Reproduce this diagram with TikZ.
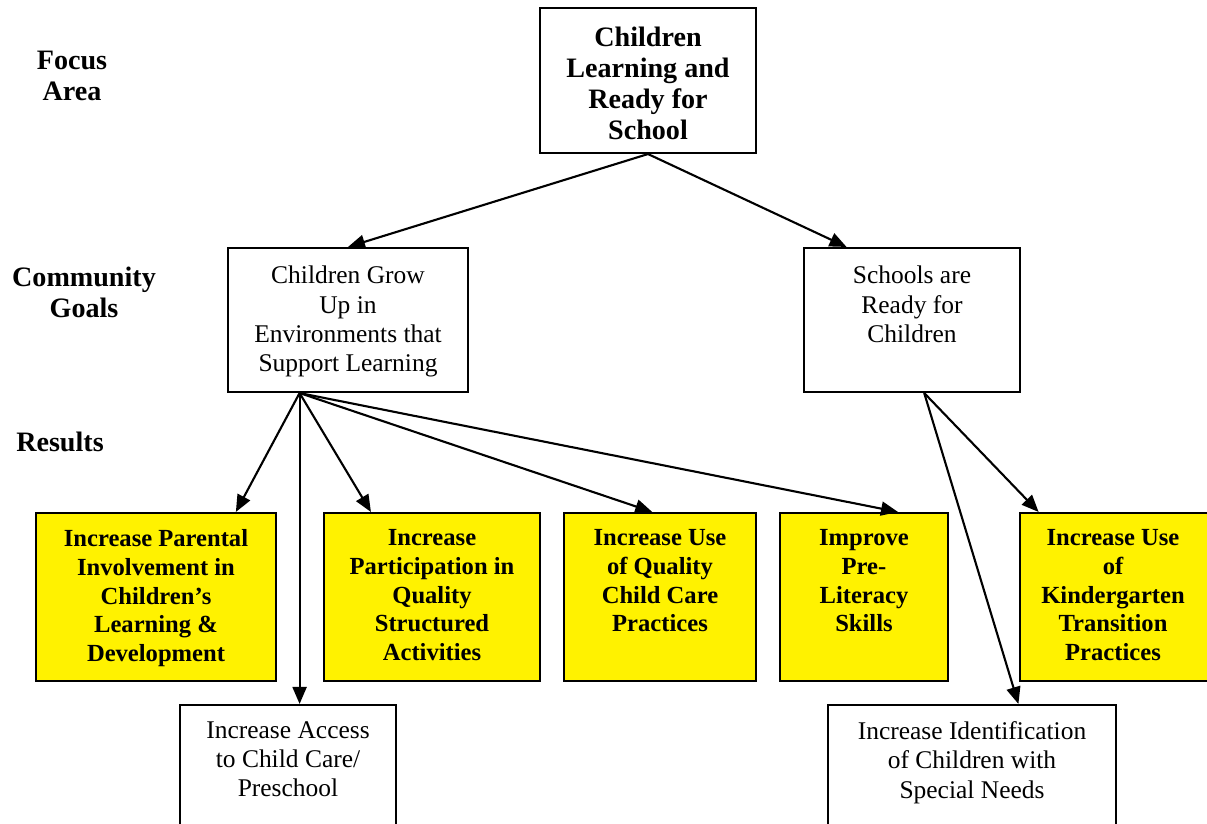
\documentclass[tikz,border=0pt]{standalone}
\usepackage{fontspec}
\setmainfont{Liberation Serif}
\usetikzlibrary{arrows.meta,calc,positioning}

\tikzset{
  box/.style={draw, line width=1.2pt, inner sep=0pt, minimum height=2.88cm},
  goal/.style={box, fill=white},
  result/.style={box, fill=yellow, minimum height=3.36cm},
  plain/.style={anchor=north, align=center, inner sep=0pt, font=\fontsize{14.5}{16.6}\selectfont},
  strong/.style={anchor=north, align=center, inner sep=0pt, font=\fontsize{14}{16.4}\selectfont\bfseries},
  heading/.style={align=center, inner sep=0pt, font=\fontsize{16}{17.6}\selectfont\bfseries},
  link/.style={line width=1.2pt, -{Triangle[length=0.34cm,width=0.28cm]}},
}

\begin{document}
\begin{tikzpicture}[x=0.02cm, y=-0.02cm]
  \clip (0,0) rectangle (1207,824);

  % row headings
  \node[heading] (focus) at (72,76) {Focus\\Area};
  \node[heading] (community) at (84,292) {Community\\Goals};
  \node[heading] (results) at (60,442) {Results};

  % focus area
  \node[box, minimum width=4.32cm, minimum height=2.9cm] (area) at (648,80.5) {};
  \node[heading, anchor=north, below=0.4cm] at (area.north) {Children\\Learning and\\Ready for\\School};

  % community goals
  \node[goal, minimum width=4.8cm] (grow) at (348,320) {};
  \node[plain, below=0.38cm] at (grow.north) {Children Grow\\Up in\\Environments that\\Support Learning};
  \node[goal, minimum width=4.32cm] (ready) at (912,320) {};
  \node[plain, below=0.38cm] at (ready.north) {Schools are\\Ready for\\Children};

  % results
  \node[result, minimum width=4.8cm] (parent) at (156,597) {};
  \node[strong, below=0.34cm] at (parent.north) {Increase Parental\\Involvement in\\Children’s\\Learning \&\\Development};
  \node[result, minimum width=4.32cm] (structured) at (432,597) {};
  \node[strong, below=0.34cm] at (structured.north) {Increase\\Participation in\\Quality\\Structured\\Activities};
  \node[result, minimum width=3.84cm] (care) at (660,597) {};
  \node[strong, below=0.34cm] at (care.north) {Increase Use\\of Quality\\Child Care\\Practices};
  \node[result, minimum width=3.36cm] (literacy) at (864,597) {};
  \node[strong, below=0.34cm] at (literacy.north) {Improve\\Pre-\\Literacy\\Skills};
  \node[result, minimum width=4.32cm] (kinder) at (1128,597) {};
  \node[strong, below=0.34cm] at ($(kinder.north)+(-15,0)$) {Increase Use\\of\\Kindergarten\\Transition\\Practices};

  \node[goal, minimum width=4.32cm] (access) at (288,777) {};
  \node[plain, below=0.35cm] at (access.north) {Increase Access\\to Child Care/\\Preschool};
  \node[goal, minimum width=5.76cm] (ident) at (972,777) {};
  \node[plain, below=0.35cm] at (ident.north) {Increase Identification\\of Children with\\Special Needs};

  % connectors
  \coordinate (fromgrow) at ($(grow.south west)!0.3!(grow.south east)$);
  \coordinate (fromready) at ($(ready.south west)!0.556!(ready.south east)$);

  \draw[link] (area.south) -- (grow.north);
  \draw[link] (area.south) -- ($(ready.north west)!0.2!(ready.north east)$);

  \draw[link] (fromgrow) -- ($(parent.north west)!0.83!(parent.north east)$);
  \draw[link] (fromgrow) -- (fromgrow |- access.north);
  \draw[link] (fromgrow) -- ($(structured.north west)!0.22!(structured.north east)$);
  \draw[link] (fromgrow) -- ($(care.north west)!0.46!(care.north east)$);
  \draw[link] (fromgrow) -- ($(literacy.north west)!0.7!(literacy.north east)$);

  \draw[link] (fromready) -- ($(kinder.north west)!0.09!(kinder.north east)$);
  \draw[link] (fromready) -- ($(ident.north west)!0.66!(ident.north east)$);
\end{tikzpicture}
\end{document}
